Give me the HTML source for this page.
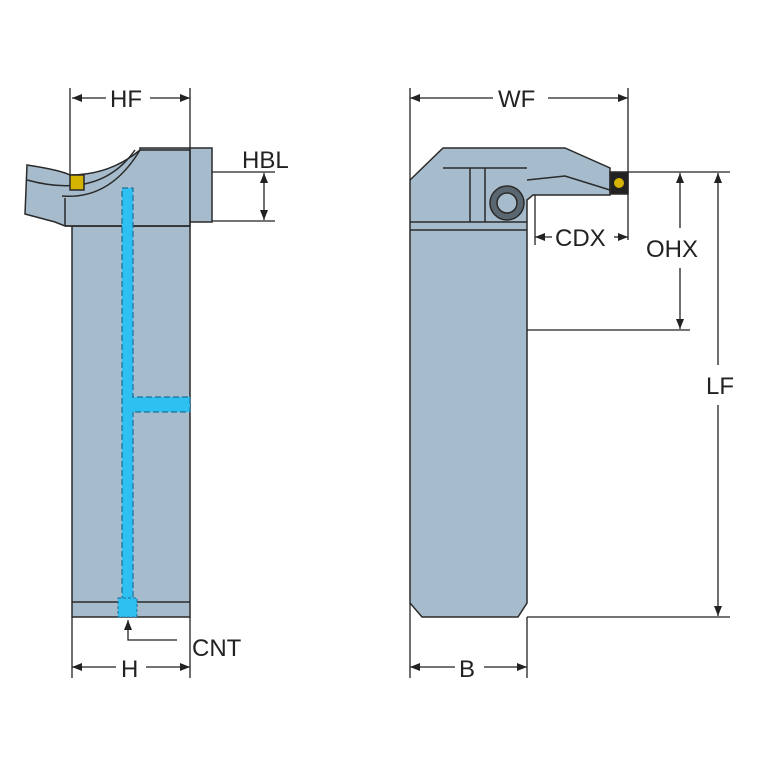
<!DOCTYPE html>
<html><head><style>body{margin:0;background:#fff}</style></head><body>
<svg width="767" height="767" viewBox="0 0 767 767" xmlns="http://www.w3.org/2000/svg" font-family="Liberation Sans, sans-serif">
<defs><marker id="a" markerWidth="10" markerHeight="8" refX="10" refY="4" orient="auto-start-reverse" markerUnits="userSpaceOnUse"><path d="M0,0 L10,4 L0,8z" fill="#222"/></marker></defs>
<g stroke="#2a2a2a" stroke-width="1.5" fill="#a6bccc">
<!-- left view -->
<rect x="72" y="226" width="118" height="391"/>
<line x1="72" y1="602" x2="190" y2="602"/>
<rect x="140" y="148" width="72" height="74"/>
<path d="M27,165 Q60,170 70,175 Q110,175 140,150 L190,150 L190,226 L65,226 L55,222 L25,214 Z"/>
<path d="M27,180 Q100,200 135,150" fill="none"/>
<path d="M62,196 Q110,200 140,150" fill="none"/>
<line x1="65" y1="198" x2="65" y2="226"/>
<rect x="70" y="175" width="14" height="15" fill="#d4b400"/>
<line x1="65" y1="226" x2="190" y2="226"/>
<!-- right view -->
<path d="M410,180 L443,148 L565,148 L610,168 L610,195 L533,195 L527,200 L527,603 L518,617 L422,617 L410,603 Z"/>
<path d="M527,180 L565,176 L610,190" fill="none"/>
<line x1="410" y1="222" x2="527" y2="222"/>
<line x1="410" y1="230" x2="527" y2="230"/>
<line x1="470" y1="168" x2="470" y2="222"/>
<line x1="485" y1="168" x2="485" y2="222"/>
<line x1="443" y1="168" x2="527" y2="168"/>
<circle cx="507" cy="203" r="17" fill="#5a6670"/>
<circle cx="507" cy="203" r="10" fill="#a6bccc"/>
<rect x="610" y="172" width="18" height="22" fill="#222"/>
<circle cx="619" cy="183" r="5" fill="#d4b400" stroke="none"/>
</g>
<!-- coolant channel -->
<g fill="#2ec0f0" stroke="#1a6f9a" stroke-width="1.2" stroke-dasharray="6,3">
<rect x="122" y="188" width="11" height="412"/>
<rect x="128" y="397" width="62" height="15"/>
</g>
<rect x="123" y="189" width="9" height="410" fill="#2ec0f0"/>
<rect x="129" y="398" width="60" height="13" fill="#2ec0f0"/>
<rect x="118" y="598" width="19" height="19" fill="#2ec0f0" stroke="#1a6f9a" stroke-dasharray="3,2"/>
<!-- dimension lines -->
<g stroke="#222" stroke-width="1.3" fill="none">
<line x1="70" y1="88" x2="70" y2="175"/><line x1="190" y1="88" x2="190" y2="226"/>
<line x1="72" y1="98" x2="106" y2="98" marker-start="url(#a)"/><line x1="150" y1="98" x2="190" y2="98" marker-end="url(#a)"/>
<line x1="212" y1="172" x2="275" y2="172"/><line x1="212" y1="221" x2="275" y2="221"/>
<line x1="264" y1="173" x2="264" y2="220" marker-start="url(#a)" marker-end="url(#a)"/>
<polyline points="128,620 128,640 177,640" marker-start="url(#a)"/>
<line x1="72" y1="617" x2="72" y2="678"/><line x1="190" y1="617" x2="190" y2="678"/>
<line x1="72" y1="667" x2="116" y2="667" marker-start="url(#a)"/><line x1="146" y1="667" x2="190" y2="667" marker-end="url(#a)"/>
<line x1="410" y1="88" x2="410" y2="180"/><line x1="628" y1="88" x2="628" y2="240"/>
<line x1="410" y1="98" x2="493" y2="98" marker-start="url(#a)"/><line x1="548" y1="98" x2="628" y2="98" marker-end="url(#a)"/>
<line x1="535" y1="195" x2="535" y2="245"/>
<line x1="535" y1="237" x2="552" y2="237" marker-start="url(#a)"/><line x1="614" y1="237" x2="628" y2="237" marker-end="url(#a)"/>
<line x1="628" y1="172" x2="730" y2="172"/><line x1="527" y1="330" x2="690" y2="330"/>
<line x1="680" y1="173" x2="680" y2="228" marker-start="url(#a)"/><line x1="680" y1="268" x2="680" y2="329" marker-end="url(#a)"/>
<line x1="718" y1="173" x2="718" y2="365" marker-start="url(#a)"/><line x1="718" y1="405" x2="718" y2="616" marker-end="url(#a)"/>
<line x1="527" y1="617" x2="730" y2="617"/>
<line x1="410" y1="603" x2="410" y2="678"/><line x1="527" y1="617" x2="527" y2="678"/>
<line x1="410" y1="667" x2="455" y2="667" marker-start="url(#a)"/><line x1="484" y1="667" x2="527" y2="667" marker-end="url(#a)"/>
</g>
<g font-size="24" fill="#222">
<text x="110" y="107">HF</text>
<text x="242" y="168">HBL</text>
<text x="192" y="656">CNT</text>
<text x="121" y="677">H</text>
<text x="498" y="107">WF</text>
<text x="555" y="246">CDX</text>
<text x="646" y="257">OHX</text>
<text x="706" y="394">LF</text>
<text x="459" y="677">B</text>
</g>
</svg>
</body></html>
